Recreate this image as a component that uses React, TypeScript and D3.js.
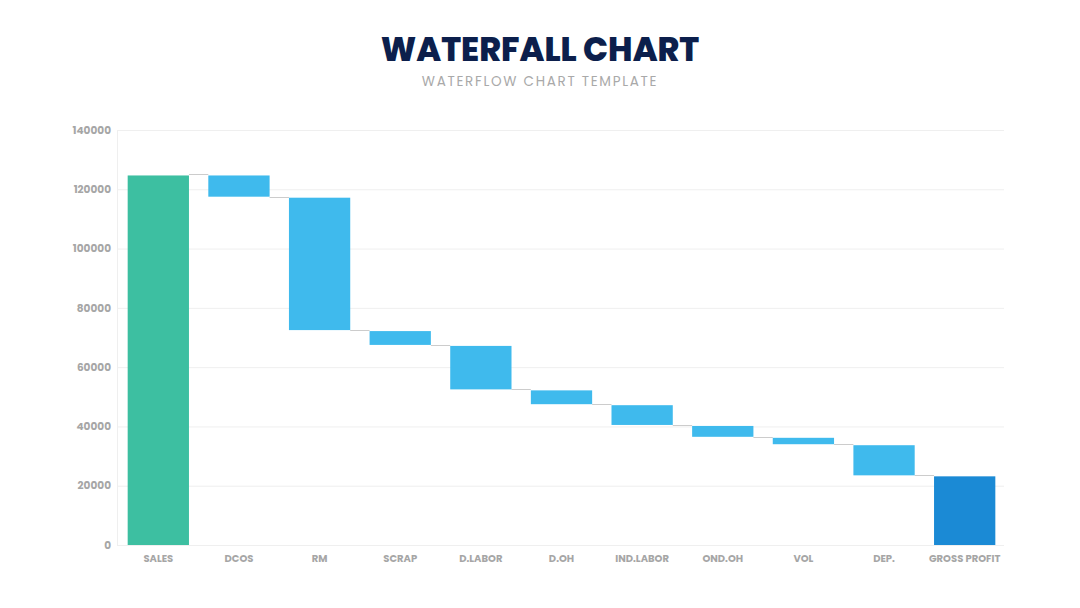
import React, { useEffect, useRef } from 'react';
import * as d3 from 'd3';

const categories = ['SALES', 'DCOS', 'RM', 'SCRAP', 'D.LABOR', 'D.OH', 'IND.LABOR', 'OND.OH', 'VOL', 'DEP.', 'GROSS PROFIT'];
// first is the starting total, last is the ending total, the rest are changes
const changes = [125000, -7500, -45000, -5000, -15000, -5000, -7000, -4000, -2500, -10500, 23500];
const yTicks = [0, 20000, 40000, 60000, 80000, 100000, 120000, 140000];

const App = () => {
  const ref = useRef<SVGSVGElement>(null);

  useEffect(() => {
    const svg = d3.select(ref.current);
    svg.selectAll('*').remove();

    const margin = { top: 130, right: 76, bottom: 63, left: 117 };
    const width = 1080 - margin.left - margin.right;
    const height = 608 - margin.top - margin.bottom;

    // running totals
    let run = 0;
    const bars = categories.map((c, i) => {
      let start, end;
      if (i === 0 || i === categories.length - 1) {
        start = 0;
        end = changes[i];
        run = changes[i];
      } else {
        start = run;
        end = run + changes[i];
        run = end;
      }
      const type = i === 0 ? 'start' : i === categories.length - 1 ? 'total' : 'change';
      return { cat: c, start, end, type };
    });

    const x = d3.scaleBand().domain(categories).range([1, width + 1]).paddingInner(0.24).paddingOuter(0.12);
    const y = d3.scaleLinear().domain([0, 140000]).range([height, 0]);

    const g = svg.append('g').attr('transform', `translate(${margin.left}, ${margin.top})`);

    g.selectAll('.grid')
      .data(yTicks)
      .join('line')
      .attr('x1', 0)
      .attr('x2', width)
      .attr('y1', d => y(d) + 0.5)
      .attr('y2', d => y(d) + 0.5)
      .attr('stroke', '#efefef')
      .attr('stroke-width', 1);

    g.append('line')
      .attr('x1', 0.5).attr('x2', 0.5)
      .attr('y1', 0).attr('y2', height)
      .attr('stroke', '#efefef');

    g.selectAll('.ylab')
      .data(yTicks)
      .join('text')
      .attr('x', -6)
      .attr('y', d => y(d))
      .attr('dy', '0.35em')
      .attr('text-anchor', 'end')
      .style('font-family', 'Poppins, Inter, "Open Sans", sans-serif')
      .style('font-size', '10.5px')
      .style('font-weight', 700)
      .style('fill', '#a6a6a6')
      .text(d => d);

    g.selectAll('.xlab')
      .data(categories)
      .join('text')
      .attr('x', d => (x(d) as number) + x.bandwidth() / 2)
      .attr('y', height + 17)
      .attr('text-anchor', 'middle')
      .style('font-family', 'Poppins, Inter, "Open Sans", sans-serif')
      .style('font-size', '10px')
      .style('font-weight', 700)
      .style('fill', '#a6a6a6')
      .text(d => d);

    // connectors
    const links = bars.slice(0, -1).map((b, i) => ({ from: b, to: bars[i + 1] }));
    g.selectAll('.link')
      .data(links)
      .join('line')
      .attr('x1', d => (x(d.from.cat) as number) + x.bandwidth())
      .attr('x2', d => x(d.to.cat) as number)
      .attr('y1', d => Math.round(y(d.from.end)) + 0.5)
      .attr('y2', d => Math.round(y(d.from.end)) + 0.5)
      .attr('stroke', '#cccccc')
      .attr('stroke-width', 1);

    const color = (t: string) => (t === 'start' ? '#3dbfa1' : t === 'total' ? '#1b8ad5' : '#3fbaed');

    g.selectAll('.bar')
      .data(bars)
      .join('rect')
      .attr('x', d => x(d.cat) as number)
      .attr('y', d => y(Math.max(d.start, d.end)) + 1)
      .attr('width', x.bandwidth())
      .attr('height', d => Math.abs(y(d.start) - y(d.end)) - 1)
      .style('fill', d => color(d.type));

    svg.append('text')
      .attr('x', 540)
      .attr('y', 61)
      .attr('text-anchor', 'middle')
      .style('font-family', 'Poppins, Inter, "Open Sans", sans-serif')
      .style('font-size', '33px')
      .style('font-weight', 800)
      .style('fill', '#0c1f4c')
      .text('WATERFALL CHART');

    svg.append('text')
      .attr('x', 540)
      .attr('y', 86)
      .attr('text-anchor', 'middle')
      .style('font-family', 'Poppins, Inter, "Open Sans", sans-serif')
      .style('font-size', '13.5px')
      .style('letter-spacing', '1.7px')
      .style('fill', '#a9a9a9')
      .text('WATERFLOW CHART TEMPLATE');
  }, []);

  return (
    <svg ref={ref} width={1080} height={608} style={{ position: 'absolute', left: 0, top: 0, background: '#fff' }} />
  );
};

export default App;
